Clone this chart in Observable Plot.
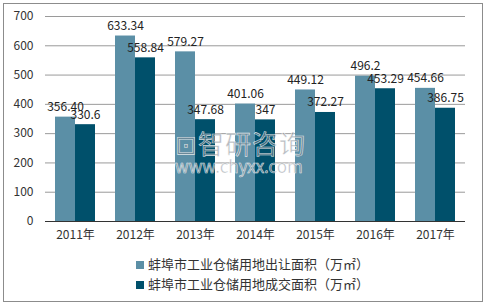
<!DOCTYPE html>
<html><head><meta charset="utf-8">
<script src="https://cdn.jsdelivr.net/npm/d3@7"></script>
<script src="https://cdn.jsdelivr.net/npm/@observablehq/plot@0.6"></script>
<style>
body{margin:0;background:#fff;font-family:"Noto Sans CJK SC","Noto Sans",sans-serif;}
#wrap{position:relative;width:486px;height:306px;overflow:hidden;}
#frame{position:absolute;left:3px;top:3px;width:478px;height:297px;border:1px solid #8c8c8c;}
#chart{position:absolute;left:0;top:0;}
.leg{position:absolute;left:136px;font-size:13px;color:#333;line-height:16px;white-space:nowrap;}
.leg i{display:inline-block;width:8px;height:8px;margin-right:4px;vertical-align:0px;}
.wm{position:absolute;color:rgba(120,130,140,0.55);-webkit-text-stroke:0.6px rgba(255,255,255,0.8);white-space:nowrap;line-height:1;}
</style></head>
<body>
<div id="wrap">
<div id="frame"></div>
<div id="chart"></div>
<div class="wm" style="left:175px;top:130px;font-size:26px;letter-spacing:1px;">⊡智研咨询</div>
<div class="wm" style="left:175px;top:157px;font-size:17px;">www.chyxx.com</div>
<div class="leg" style="top:256px;"><i style="background:#5b8fa6"></i>蚌埠市工业仓储用地出让面积（万㎡）</div>
<div class="leg" style="top:276px;"><i style="background:#00506b"></i>蚌埠市工业仓储用地成交面积（万㎡）</div>
</div>
<script>
const years = ["2011","2012","2013","2014","2015","2016","2017"];
const seriesNames = ["蚌埠市工业仓储用地出让面积（万㎡）","蚌埠市工业仓储用地成交面积（万㎡）"];
const supplyLabels = ["356.40","633.34","579.27","401.06","449.12","496.2","454.66"];
const dealLabels = ["330.6","558.84","347.68","347","372.27","453.29","386.75"];
const yTicks = [0,100,200,300,400,500,600,700];
const colors = ["#5b8fa6","#00506b"];

const data = [];
years.forEach((y,i)=>{
  data.push({year:y, series:seriesNames[0], value:+supplyLabels[i], label:supplyLabels[i]});
  data.push({year:y, series:seriesNames[1], value:+dealLabels[i], label:dealLabels[i]});
});

const chart = Plot.plot({
  width:486, height:250,
  marginLeft:42, marginRight:18, marginTop:16, marginBottom:29,
  style:{fontFamily:'"Noto Sans CJK SC","Noto Sans",sans-serif', fontSize:"12px", color:"#333", background:"transparent"},
  fx:{domain:years, padding:0, label:null, tickFormat:d=>d+"年", tickSize:0, tickPadding:9, axis:"bottom"},
  x:{domain:seriesNames, paddingInner:0, paddingOuter:0.5, axis:null},
  y:{domain:[0,700], ticks:yTicks, label:null, tickSize:0, tickPadding:12},
  color:{domain:seriesNames, range:colors},
  marks:[
    Plot.ruleY(yTicks.filter(d=>d>0), {stroke:"#9a9a9a", strokeWidth:1}),
    Plot.barY(data, {fx:"year", x:"series", y:"value", fill:"series"}),
    Plot.ruleY([0], {stroke:"#333", strokeWidth:1}),
    Plot.text(data, {fx:"year", x:"series", y:"value", text:"label", lineAnchor:"bottom", dy:-6, fill:"#222", fontSize:12})
  ]
});
document.getElementById("chart").appendChild(chart);
</script>
</body></html>
